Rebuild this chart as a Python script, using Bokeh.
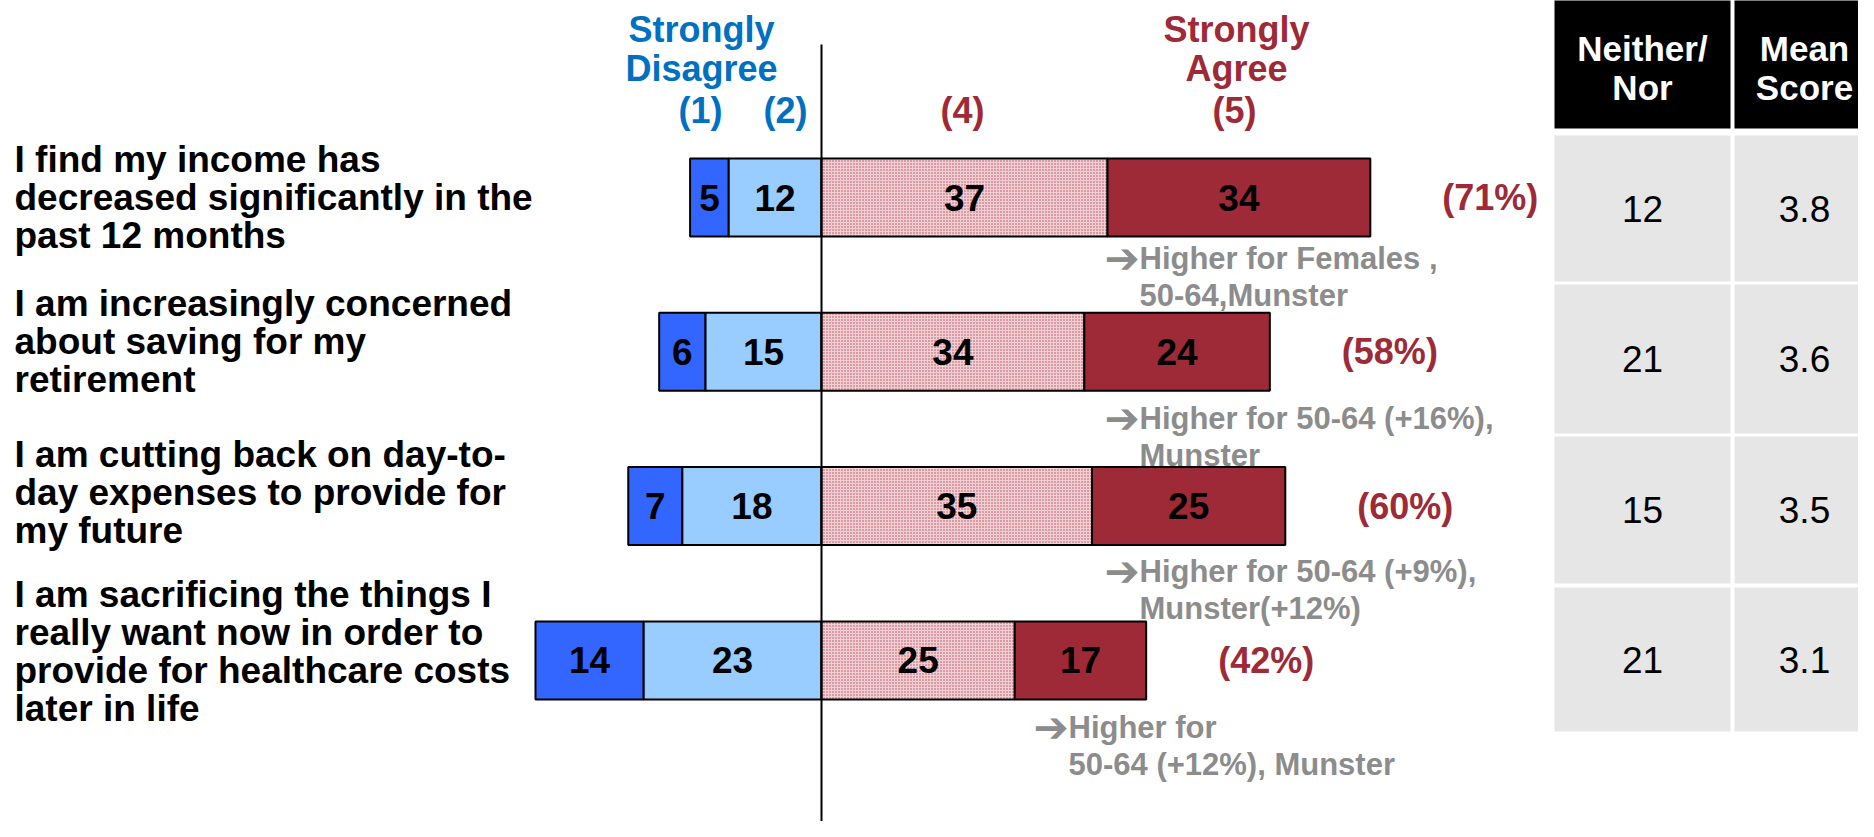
from bokeh.plotting import figure
from bokeh.models import Range1d
from bokeh.core.properties import value
from bokeh.embed import file_html
from bokeh.resources import INLINE

# ---------------- data ----------------
statements = [
    "I find my income has\ndecreased significantly in the\npast 12 months",
    "I am increasingly concerned\nabout saving for my\nretirement",
    "I am cutting back on day-to-\nday expenses to provide for\nmy future",
    "I am sacrificing the things I\nreally want now in order to\nprovide for healthcare costs\nlater in life",
]
strongly_disagree = [5, 6, 7, 14]
disagree = [12, 15, 18, 23]
agree = [37, 34, 35, 25]
strongly_agree = [34, 24, 25, 17]
neither_nor = [12, 21, 15, 21]
mean_score = [3.8, 3.6, 3.5, 3.1]
notes = [
    ["Higher for Females ,", "50-64,Munster"],
    ["Higher for 50-64 (+16%),", "Munster"],
    ["Higher for 50-64 (+9%),", "Munster(+12%)"],
    ["Higher for", "50-64 (+12%), Munster"],
]
table_headers = ["Neither/\nNor", "Mean\nScore"]

# ---------------- layout (page pixels) ----------------
W, H = 1858, 821
ZERO_PX = 821.0
PX_PER_UNIT = 7.73
FONT = value("Liberation Sans")
C_SD, C_D, C_A, C_SA = "#3366FF", "#99CCFF", "#EFD0D4", "#9E2A37"
C_BLUE, C_RED, C_GREY = "#0070C0", "#9E2A37", "#8C8C8C"

row_y = [197 + 154.3 * i for i in range(4)]
label_cy = [197, 341, 492, 651]
line_h = 37.7
note_x = [1104, 1104, 1104, 1033]
note_y = [258, 418, 571, 727]
tbl_cols = [(1554, 1730), (1734, 1880)]
tbl_head = (-5, 128)
tbl_rows = [(135, 281), (284, 433), (436, 583), (587, 731)]

p = figure(width=W, height=H, output_backend="svg", toolbar_location=None,
           x_range=Range1d((0 - ZERO_PX) / PX_PER_UNIT, (W - ZERO_PX) / PX_PER_UNIT),
           y_range=Range1d(H, 0),
           x_axis_type=None, y_axis_type=None,
           min_border=0, min_border_left=0, min_border_right=0,
           min_border_top=0, min_border_bottom=0)
p.extra_x_ranges = {"px": Range1d(0, W)}
p.grid.visible = False
p.outline_line_color = None
p.background_fill_color = "white"
p.border_fill_color = "white"

# ---------------- left labels ----------------
lx, ly, lt = [], [], []
for s, cy in zip(statements, label_cy):
    lines = s.split("\n")
    n = len(lines)
    for k, ln in enumerate(lines):
        lx.append(14)
        ly.append(cy + (k - (n - 1) / 2) * line_h)
        lt.append(ln)
p.text(x=lx, y=ly, text=lt, x_range_name="px", text_font=FONT, text_font_style="bold",
       text_font_size="37px", text_align="left", text_baseline="middle", text_color="black")

# ---------------- notes ----------------
ax, ay, tx, ty, tt = [], [], [], [], []
for (l1, l2), nx, ny in zip(notes, note_x, note_y):
    ax.append(nx); ay.append(ny)
    tx += [nx + 35, nx + 35]; ty += [ny, ny + 37]; tt += [l1, l2]
p.text(x=ax, y=ay, text=["➔"] * len(ax), x_range_name="px", text_font=value("DejaVu Sans"),
       text_font_size="42px", text_align="left", text_baseline="middle",
       text_color=C_GREY)
p.text(x=tx, y=ty, text=tt, x_range_name="px", text_font=FONT, text_font_style="bold",
       text_font_size="31px", text_align="left", text_baseline="middle", text_color=C_GREY)

# ---------------- bars ----------------
sd_l = [-(a + b) for a, b in zip(strongly_disagree, disagree)]
d_l = [-b for b in disagree]
a_r = list(agree)
sa_r = [a + b for a, b in zip(agree, strongly_agree)]
zeros = [0] * 4
bh = 78
p.hbar(y=row_y, left=sd_l, right=d_l, height=bh, fill_color=C_SD, line_color="black", line_width=2)
p.hbar(y=row_y, left=d_l, right=zeros, height=bh, fill_color=C_D, line_color="black", line_width=2)
p.hbar(y=row_y, left=zeros, right=a_r, height=bh, fill_color=C_A, line_color="black", line_width=2,
       hatch_pattern="dot", hatch_color="#C04656", hatch_scale=3, hatch_weight=2, hatch_alpha=1.0)
p.hbar(y=row_y, left=a_r, right=sa_r, height=bh, fill_color=C_SA, line_color="black", line_width=2)

# numbers in bars
nx_, ny_, nt_ = [], [], []
for i in range(4):
    segs = [(sd_l[i], d_l[i], strongly_disagree[i]), (d_l[i], 0, disagree[i]),
            (0, a_r[i], agree[i]), (a_r[i], sa_r[i], strongly_agree[i])]
    for l, r, v in segs:
        nx_.append((l + r) / 2); ny_.append(row_y[i]); nt_.append(str(v))
p.text(x=nx_, y=ny_, text=nt_, text_font=FONT, text_font_style="bold", text_font_size="37px",
       text_align="center", text_baseline="middle", text_color="black")

# center line
p.segment(x0=[0], y0=[44], x1=[0], y1=[H], line_color="black", line_width=2)

# total agree labels
p.text(x=sa_r, y=row_y, text=[f"({v}%)" for v in sa_r], x_offset=72, text_font=FONT,
       text_font_style="bold", text_font_size="36px", text_align="left", text_baseline="middle",
       text_color=C_RED)

# ---------------- scale headers ----------------
hdr_kw = dict(x_range_name="px", text_font=FONT, text_font_style="bold", text_font_size="36px",
              text_align="center", text_baseline="middle")
p.text(x=[701, 701], y=[29, 68], text=["Strongly", "Disagree"], text_color=C_BLUE, **hdr_kw)
p.text(x=[700, 785], y=[110, 110], text=["(1)", "(2)"], text_color=C_BLUE, **hdr_kw)
p.text(x=[1236, 1236], y=[29, 68], text=["Strongly", "Agree"], text_color=C_RED, **hdr_kw)
p.text(x=[962, 1234], y=[110, 110], text=["(4)", "(5)"], text_color=C_RED, **hdr_kw)

# ---------------- table ----------------
for (c0, c1), hdr in zip(tbl_cols, table_headers):
    p.quad(left=[c0], right=[c1], top=[tbl_head[0]], bottom=[tbl_head[1]], x_range_name="px",
           fill_color="black", line_color=None)
    hl = hdr.split("\n")
    cx = (c0 + min(c1, 1874)) / 2
    p.text(x=[cx] * len(hl), y=[48, 87][:len(hl)], text=hl, x_range_name="px", text_font=FONT,
           text_font_style="bold", text_font_size="35px", text_align="center",
           text_baseline="middle", text_color="white")

for col, ((c0, c1), vals) in enumerate(zip(tbl_cols, [neither_nor, mean_score])):
    p.quad(left=[c0] * 4, right=[c1] * 4, top=[r[0] for r in tbl_rows],
           bottom=[r[1] for r in tbl_rows], x_range_name="px", fill_color="#E6E6E6", line_color=None)
    cx = (c0 + min(c1, 1874)) / 2
    p.text(x=[cx] * 4, y=[(r[0] + r[1]) / 2 for r in tbl_rows], text=[str(v) for v in vals],
           x_range_name="px", text_font=FONT, text_font_size="37px", text_align="center",
           text_baseline="middle", text_color="black")

open("out.html", "w").write(file_html(p, INLINE))
